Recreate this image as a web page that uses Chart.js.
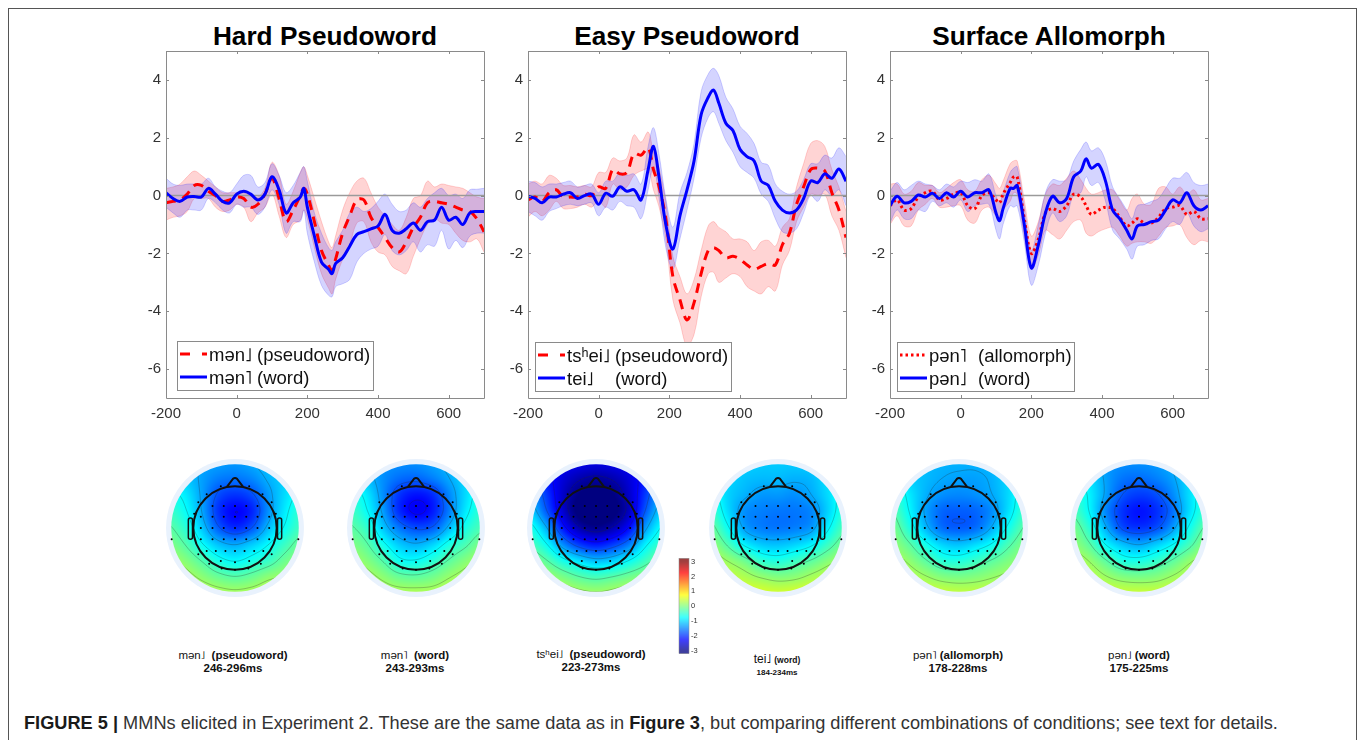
<!DOCTYPE html>
<html>
<head>
<meta charset="utf-8">
<title>MMNs elicited in Experiment 2</title>
<script src="https://cdn.jsdelivr.net/npm/chart.js@4/dist/chart.umd.min.js"></script>
<style>
  html, body { margin: 0; padding: 0; background: #fff; }
  #page { position: relative; width: 1357px; height: 740px; overflow: hidden; font-family: "Liberation Sans", "DejaVu Sans", sans-serif; }
  #frame { position: absolute; left: 8px; top: 8px; width: 1347px; height: 740px; border: 1px solid #555; }
  canvas { position: absolute; }
  .title { position: absolute; top: 20px; width: 320px; text-align: center; font-weight: bold; font-size: 26.2px; line-height: 32px; color: #000; }
  .cap { position: absolute; width: 200px; text-align: center; white-space: nowrap; font-size: 11.5px; line-height: 13px; color: #111; font-weight: bold; }
  .cap .ipa { font-weight: normal; }
  #footer { position: absolute; left: 24px; top: 712px; white-space: nowrap; font-size: 18.2px; line-height: 22px; color: #333; }
  #footer b { color: #1a1a1a; }
</style>
</head>
<body>
<div id="page">
  <div id="frame"></div>
  <div class="title" style="left:165px">Hard Pseudoword</div>
  <div class="title" style="left:527px">Easy Pseudoword</div>
  <div class="title" style="left:889px">Surface Allomorph</div>

  <div class="cap" style="left:133px;top:649px"><span class="ipa">mən˩</span>&nbsp; (pseudoword)<br>246-296ms</div>
  <div class="cap" style="left:315px;top:649px"><span class="ipa">mən˥</span>&nbsp; (word)<br>243-293ms</div>
  <div class="cap" style="left:491px;top:648px"><span class="ipa">tsʰei˩</span>&nbsp; (pseudoword)<br>223-273ms</div>
  <div class="cap" style="left:677px;top:654px;line-height:11px"><span class="ipa" style="font-size:12px">tei˩</span> <span style="font-size:8.5px">(word)</span><br><span style="font-size:8px">184-234ms</span></div>
  <div class="cap" style="left:858px;top:649px"><span class="ipa">pən˥</span>&nbsp;(allomorph)<br>178-228ms</div>
  <div class="cap" style="left:1039px;top:649px"><span class="ipa">pən˩</span>&nbsp;(word)<br>175-225ms</div>

  <div id="footer"><b>FIGURE 5 |</b> MMNs elicited in Experiment 2. These are the same data as in <b>Figure 3</b>, but comparing different combinations of conditions; see text for details.</div>
</div>

<script>
// ---- tick labels
const xTicks = [-200, 0, 200, 400, 600];
const yTicks = [-6, -4, -2, 0, 2, 4];
const barTicks = [-3, -2, -1, 0, 1, 2, 3];

// ---- Hard Pseudoword
const hardTimes = [-200,-180,-160,-140,-120,-100,-80,-60,-40,-20, 0,20,40,60,80,100,120,140,160,180, 190,200,220,240,260,270,280,300,320,340, 360,380,400,420,440,460,480,500,520,540, 560,580,600,620,640,660,680,700];
const hardBlue = [.1,-.1,-.2,-.05,-.03,-.05,.25,.05,-.2,-.25, .05,.15,.05,-.15,.05,.65,.2,-.6,-.25,-.05, .25,-.4,-1.4,-2.3,-2.55,-2.7,-2.35,-2.15,-1.75,-1.35, -1.25,-1.15,-1.05,-.65,-1.2,-1.3,-1.15,-.95,-1.2,-.9, -.85,-.4,-.85,-.75,-1.0,-.6,-.55,-.55];
const hardBlueUp = [.6,.4,.35,.4,.4,.4,.6,.3,.15,.1, .4,.7,.7,.3,.45,1.1,.7,.1,.35,.8, 1.0,.5,-.6,-1.3,-1.8,-1.9,-1.6,-1.2,-.6,-.4, -.55,-.45,-.2,.05,-.3,-.55,-.5,-.25,-.4,-.1, .1,.25,0,.05,-.1,.2,.22,.25];
const hardBlueLo = [-.4,-.6,-.75,-.5,-.5,-.5,-.1,-.25,-.5,-.6, -.3,-.4,-.4,-.65,-.4,.2,-.3,-1.3,-.9,-.9, -.5,-1.3,-2.3,-3.1,-3.45,-3.5,-3.15,-3.05,-2.9,-2.3, -2.0,-1.85,-1.75,-1.35,-1.9,-2.05,-1.9,-1.6,-1.95,-1.7, -1.75,-1.2,-1.85,-1.55,-1.8,-1.4,-1.3,-1.3];
const hardRed = [-.25,-.2,-.15,.05,.35,.35,.15,0,-.2,-.15, -.05,-.1,-.4,-.3,.05,.6,-.1,-.9,-.5,0, .25,.05,-.9,-1.9,-2.4,-2.6,-2.2,-1.3,-.7,-.15, -.15,-.75,-1.1,-1.45,-1.8,-1.95,-1.6,-1.1,-.75,-.25, -.2,-.25,-.3,-.4,-.5,-.55,-.8,-1.25];
const hardRedUp = [.25,.3,.4,.65,.85,.7,.5,.3,.1,.1, .1,.1,0,-.05,.25,1.15,.7,-.3,.15,.8, 1.0,.7,-.1,-.9,-1.6,-1.8,-1.4,-.5,.1,.5, .6,.1,-.4,-.7,-1.0,-1.2,-.75,-.1,0,.5, .3,.4,.35,.3,.25,.1,-.05,-.1];
const hardRedLo = [-.85,-.75,-.7,-.55,-.1,-.1,-.1,-.4,-.55,-.5, -.3,-.4,-.9,-.6,-.4,.05,-.7,-1.45,-1.0,-.85, -.5,-.8,-1.8,-2.7,-3.2,-3.4,-2.9,-2.2,-1.7,-.95, -.9,-1.6,-1.95,-2.05,-2.45,-2.6,-2.7,-2.1,-1.5,-1.0, -.8,-.95,-1.0,-1.3,-1.55,-1.6,-1.5,-1.95];

// ---- Easy Pseudoword
const easyTimes = [-200,-180,-160,-140,-120,-100,-80,-60,-40,-20, 0,20,40,60,80,100,120,140,155,170, 190,210,230,250,270,290,310,325,340,360, 380,400,420,440,460,480,500,520,540,560, 580,600,620,640,660,680,700];
const easyBlue = [-.02,-.1,-.25,-.05,-.05,.05,.1,-.1,0,.05, -.3,.08,-.02,.3,.15,.2,-.15,.9,1.7,.7, -1.0,-1.85,-.7,.2,1.2,2.8,3.4,3.65,3.2,2.5, 2.25,1.6,1.35,1.2,.5,.35,-.2,-.5,-.6,-.5, -.1,.5,.45,.75,.6,.92,.5];
const easyBlueUp = [.5,.45,.3,.4,.4,.45,.5,.3,.35,.4, .1,.5,.5,.8,.7,.75,.4,1.7,2.35,1.5, -.1,-1.1,.1,.8,1.8,3.6,4.2,4.4,4.15,3.4, 3.0,2.4,2.15,1.8,1.15,1.05,.4,.15,.05,.15, .55,1.1,1.1,1.4,1.3,1.65,1.35];
const easyBlueLo = [-.55,-.7,-.85,-.55,-.45,-.35,-.3,-.35,-.3,-.25, -.7,-.4,-.5,-.2,-.35,-.4,-.8,.2,1.0,0, -1.8,-2.55,-1.5,-.5,.6,2.0,2.7,2.9,2.5,1.9, 1.5,1.0,.8,.6,.05,-.2,-.8,-1.25,-1.3,-1.15, -.6,0,-.2,.2,0,.2,-.35];
const easyRed = [-.15,-.05,-.2,.1,.2,-.05,-.05,-.05,.05,0, .3,.25,.9,.75,.8,1.45,1.4,1.65,.9,.35, -.8,-2.8,-3.6,-4.3,-3.7,-2.7,-1.9,-1.8,-1.9,-2.15, -2.1,-2.2,-2.4,-2.55,-2.45,-2.35,-2.4,-1.7,-1.3,-.3, .3,.9,.95,.85,.1,-.5,-1.45];
const easyRedUp = [.4,.5,.4,.7,.6,.35,.35,.3,.35,.3, .8,.8,1.3,1.2,1.3,2.1,1.85,2.2,1.5,1.0, -.2,-2.1,-2.8,-3.4,-2.9,-1.9,-1.05,-.9,-1.1,-1.25, -1.5,-1.5,-1.6,-1.9,-1.6,-1.55,-1.75,-1.1,-.8,.3, 1.1,1.8,1.9,1.7,.9,.3,-.55];
const easyRedLo = [-.75,-.55,-.7,-.5,-.2,-.45,-.45,-.4,-.3,-.4, -.2,-.4,.4,.2,.3,.7,.85,.9,.2,-.35, -1.5,-3.6,-4.4,-5.2,-4.8,-3.5,-2.7,-2.65,-3.0,-2.85, -2.7,-2.8,-3.15,-3.3,-3.4,-3.15,-3.3,-2.4,-1.9,-.9, -.4,.05,0,.05,-.7,-1.2,-2.15];

// ---- Surface Allomorph
const surfTimes = [-200,-180,-160,-140,-120,-100,-80,-60,-40,-20, 0,20,40,60,80,100,110,120,140,150, 160,180,200,220,240,260,280,300,320,340, 355,370,390,410,430,450,470,485,500,520, 540,560,580,600,620,640,660,680,700];
const surfBlue = [-.35,-.02,-.25,-.2,.02,-.05,.08,-.1,.1,-.05, .15,-.05,.1,.1,.2,-.6,-.87,-.45,.25,.25, .35,-1.0,-2.5,-1.7,-.6,-.02,-.25,-.1,.65,.85, 1.27,.95,1.08,.5,-.5,-.8,-1.2,-1.5,-1.05,-1.0, -.9,-.85,-.5,-.15,-.25,.1,-.35,-.5,-.35];
const surfBlueUp = [.15,.45,.2,.35,.5,.4,.35,.2,.4,.3, .5,.45,.55,.5,.75,0,-.25,.1,.8,.95, 1.0,-.4,-1.9,-1.0,.1,.55,.5,.55,1.2,1.6, 1.85,1.55,1.65,1.2,.3,-.1,-.5,-.8,-.35,-.3, -.2,-.1,.25,.6,.6,.8,.45,.35,.4];
const surfBlueLo = [-.95,-.5,-.8,-.8,-.5,-.55,-.2,-.35,-.25,-.4, -.15,-.55,-.35,-.3,-.3,-1.2,-1.5,-1.0,-.35,-.4, -.35,-1.6,-3.1,-2.4,-1.3,-.6,-.9,-.7,.05,.1, .65,.35,.45,-.2,-1.2,-1.5,-1.85,-2.2,-1.75,-1.7, -1.55,-1.5,-1.15,-.9,-1.0,-.6,-1.05,-1.25,-1.15];
const surfRed = [-.35,-.15,-.5,-.45,-.05,.1,.15,-.15,-.1,.05, .1,-.35,-.45,0,.1,-.15,-.25,.05,.45,.65, .65,-.8,-2.0,-1.5,-.6,-.45,-.55,-.35,.05,-.05, -.35,-.65,-.5,-.4,-.45,-.75,-1.05,-.95,-.8,-.95, -.95,-.75,-.45,-.4,-.35,-.65,-.55,-.8,-.8];
const surfRedUp = [.4,.4,.05,.15,.45,.35,.35,.1,.25,.45, .55,.2,.15,.55,.7,.4,.25,.5,1.1,1.2, 1.2,-.15,-1.4,-.9,.05,.4,.35,.6,.85,.55, .25,.05,.1,.2,.2,-.15,-.5,-.1,.05,-.3, -.3,.25,.3,.05,.3,.05,.2,-.15,-.1];
const surfRedLo = [-1.0,-.7,-1.05,-1.05,-.5,-.3,-.1,-.4,-.4,-.35, -.35,-.85,-.95,-.5,-.4,-.7,-.8,-.5,-.2,.1, .05,-1.4,-2.55,-2.05,-1.2,-1.35,-1.5,-1.2,-.9,-.85, -1.3,-1.4,-1.25,-1.15,-1.1,-1.4,-1.75,-1.65,-1.6,-1.6, -1.65,-1.4,-1.1,-1.05,-1.0,-1.45,-1.7,-1.55,-1.6];

// ---- legend texts
const hardLegend = [["mən˩", "(pseudoword)"], ["mən˥", "(word)"]];
const easyLegend = [["tsʰei˩", "(pseudoword)"], ["tei˩", "(word)"]];
const surfLegend = [["pən˥", "(allomorph)"], ["pən˩", "(word)"]];

// ---- scalp potentials, rows top to bottom, columns left to right
const mapHardPseudo = [
  [-1.1,-1.15,-1.25,-1.3,-1.35,-1.25,-1.1,-1.0,-.9],
  [-.85,-1.05,-1.3,-1.5,-1.55,-1.45,-1.2,-1.0,-.75],
  [-.65,-.85,-1.3,-1.8,-1.95,-1.8,-1.35,-.95,-.65],
  [-.4,-.7,-1.25,-1.95,-2.25,-2.05,-1.4,-.85,-.45],
  [-.2,-.5,-1.05,-1.7,-2.0,-1.75,-1.15,-.7,-.35],
  [0,-.25,-.7,-1.1,-1.25,-1.05,-.75,-.4,-.1],
  [.25,.05,-.25,-.6,-.75,-.6,-.4,-.1,.1],
  [.45,.3,.1,-.1,-.2,-.1,.1,.2,.3],
  [.6,.5,.4,.3,.25,.3,.4,.45,.5]
];
const mapHardWord = [
  [-1.2,-1.25,-1.35,-1.4,-1.4,-1.3,-1.15,-1.0,-.85],
  [-.8,-1.1,-1.4,-1.6,-1.65,-1.5,-1.25,-.95,-.7],
  [-.55,-.85,-1.4,-1.95,-2.15,-2.0,-1.45,-.95,-.55],
  [-.35,-.7,-1.3,-2.0,-2.3,-2.1,-1.5,-.85,-.45],
  [-.2,-.45,-1.05,-1.55,-1.8,-1.7,-1.15,-.6,-.3],
  [0,-.2,-.65,-1.05,-1.2,-1.0,-.6,-.3,0],
  [.25,.05,-.25,-.65,-.7,-.5,-.2,.05,.25],
  [.45,.3,.1,-.1,-.15,-.05,.15,.3,.45],
  [.55,.5,.35,.3,.3,.3,.4,.5,.55]
];
const mapEasyPseudo = [
  [-1.9,-2.1,-2.25,-2.35,-2.4,-2.35,-2.25,-2.05,-1.85],
  [-1.7,-2.1,-2.45,-2.7,-2.8,-2.7,-2.45,-2.05,-1.65],
  [-1.3,-1.9,-2.55,-3.0,-3.1,-3.0,-2.55,-1.9,-1.25],
  [-1.0,-1.7,-2.5,-3.1,-3.2,-3.1,-2.6,-1.7,-1.0],
  [-.6,-1.2,-2.1,-2.7,-2.9,-2.7,-2.2,-1.3,-.7],
  [-.3,-.7,-1.4,-1.9,-2.1,-1.9,-1.5,-.8,-.4],
  [.05,-.2,-.6,-.9,-1.1,-1.0,-.7,-.35,-.05],
  [.25,.2,0,-.2,-.3,-.2,-.05,.1,.25],
  [.45,.4,.35,.25,.2,.25,.35,.4,.45]
];
const mapEasyWord = [
  [-.8,-.9,-1.0,-1.05,-1.05,-1.05,-1.0,-.9,-.8],
  [-.7,-.95,-1.1,-1.15,-1.15,-1.2,-1.15,-.9,-.7],
  [-.6,-1.0,-1.2,-1.35,-1.35,-1.4,-1.25,-.95,-.6],
  [-.4,-.95,-1.4,-1.5,-1.55,-1.55,-1.45,-1.0,-.5],
  [-.15,-.7,-1.3,-1.5,-1.55,-1.5,-1.35,-.8,-.3],
  [.1,-.3,-.8,-1.05,-1.1,-1.0,-.8,-.4,-.05],
  [.35,.15,-.1,-.45,-.55,-.4,-.2,.05,.25],
  [.6,.45,.3,.15,.05,.1,.25,.4,.55],
  [.75,.7,.6,.55,.5,.55,.6,.7,.75]
];
const mapSurfAllo = [
  [-.95,-1.1,-1.15,-1.2,-1.2,-1.2,-1.15,-1.05,-.85],
  [-.6,-1.0,-1.15,-1.25,-1.3,-1.3,-1.2,-.95,-.6],
  [-.4,-.85,-1.2,-1.4,-1.45,-1.4,-1.25,-.95,-.5],
  [-.25,-.75,-1.3,-1.65,-1.7,-1.65,-1.4,-.9,-.4],
  [-.05,-.55,-1.15,-1.6,-1.7,-1.6,-1.2,-.65,-.2],
  [.1,-.2,-.65,-1.0,-1.1,-.95,-.7,-.3,0],
  [.3,.1,-.2,-.5,-.55,-.4,-.2,0,.15],
  [.5,.35,.2,.05,0,.05,.15,.25,.35],
  [.6,.55,.5,.45,.4,.4,.45,.5,.55]
];
const mapSurfWord = [
  [-.95,-1.2,-1.35,-1.4,-1.4,-1.35,-1.2,-1.05,-.85],
  [-.6,-.9,-1.3,-1.55,-1.6,-1.5,-1.3,-.95,-.6],
  [-.45,-.8,-1.3,-1.75,-1.9,-1.8,-1.45,-.95,-.55],
  [-.3,-.75,-1.45,-1.95,-2.15,-2.0,-1.6,-.95,-.45],
  [-.05,-.5,-1.2,-1.8,-1.95,-1.8,-1.35,-.7,-.2],
  [.1,-.2,-.75,-1.1,-1.25,-1.05,-.75,-.35,.05],
  [.35,.15,-.2,-.55,-.6,-.45,-.2,.1,.3],
  [.55,.4,.2,.05,0,.05,.2,.35,.5],
  [.65,.6,.5,.45,.45,.45,.5,.55,.65]
];

// ---- electrode positions on the head, radius 1
const electrodeX = [-.34,.34, -.68,.66, -.88,.88, -.54,-.27,0,.27,.54, -.98,.98, -.82,-.54,-.27,0,.27,.54,.82, -.82,-.54,-.27,0,.27,.54,.82, -1.52,-.82,-.54,-.27,0,.27,.54,.82,1.52, -.68,-.46,-.23,0,.23,.46,.68, -.88,.88, -.62,-.34,0,.34,.62, -.32,0,.32];
const electrodeY = [1,1, .81,.81, .62,.62, .53,.53,.53,.53,.53, .34,.34, .27,.27,.27,.27,.27,.27,.27, 0,0,0,0,0,0,0, -.27,-.27,-.27,-.27,-.27,-.27,-.27,-.27,-.27, -.55,-.55,-.55,-.55,-.55,-.55,-.55, -.63,-.63, -.86,-.79,-.82,-.79,-.86, -.97,-1,-.97];
const contourLevels = [-2.75,-2.25,-1.75,-1.25,-.75,-.25,.15];

// ---- colours
function jet(v) {
  const t = Math.max(0, Math.min(1, (v + 3) / 6));
  const c = k => Math.max(0, Math.min(1, 1.5 - Math.abs(4 * t - k)));
  return [c(3) * 255, c(2) * 255, c(1) * 255];
}

// ---- MATLAB style box and inward ticks, plus legend inside the plot
const boxPlugin = {
  id: 'box',
  afterDraw(chart) {
    const { ctx, chartArea: a, scales } = chart;
    ctx.save();
    ctx.strokeStyle = '#8a8a8a';
    ctx.lineWidth = 1;
    ctx.beginPath();
    ctx.rect(a.left + .5, a.top + .5, a.right - a.left, a.bottom - a.top);
    xTicks.forEach(v => {
      const x = Math.round(scales.x.getPixelForValue(v)) + .5;
      ctx.moveTo(x, a.bottom); ctx.lineTo(x, a.bottom - 3);
      ctx.moveTo(x, a.top); ctx.lineTo(x, a.top + 3);
    });
    yTicks.forEach(v => {
      const y = Math.round(scales.y.getPixelForValue(v)) + .5;
      ctx.moveTo(a.left, y); ctx.lineTo(a.left + 3, y);
      ctx.moveTo(a.right, y); ctx.lineTo(a.right - 3, y);
    });
    ctx.stroke();

    const lg = chart.options.plugins.box;
    ctx.fillStyle = '#fff';
    ctx.fillRect(lg.x, lg.y, lg.w, 49);
    ctx.strokeRect(lg.x + .5, lg.y + .5, lg.w, 49);
    lg.rows.forEach((row, i) => {
      const y = lg.y + 13 + i * 23;
      const line = chart.data.datasets[i === 0 ? 1 : 0];
      ctx.strokeStyle = line.borderColor;
      ctx.lineWidth = 3;
      ctx.setLineDash(i === 0 ? lg.sample : []);
      ctx.beginPath();
      ctx.moveTo(lg.x + 3, y);
      ctx.lineTo(lg.x + 30, y);
      ctx.stroke();
      ctx.setLineDash([]);
      ctx.fillStyle = '#111';
      ctx.font = '18.5px "Liberation Sans", "DejaVu Sans", sans-serif';
      ctx.textBaseline = 'middle';
      ctx.fillText(row[0], lg.x + 32, y + 2);
      ctx.fillText(row[1], lg.tagX, y + 2);
    });
    ctx.restore();
  }
};

const TOP = 51, PAD_T = 15, PLOT_W = 318, PLOT_H = 347, PAD_L = 44;

function band(times, values, colour, edge, fill, order) {
  return {
    data: times.map((t, i) => ({ x: t, y: values[i] })),
    borderColor: edge, borderWidth: .8, pointRadius: 0,
    backgroundColor: colour, fill: fill, order: order,
    tension: .35
  };
}

function line(times, values, colour, dash) {
  return {
    data: times.map((t, i) => ({ x: t, y: values[i] })),
    borderColor: colour, borderWidth: 3, pointRadius: 0, fill: false,
    borderDash: dash, tension: .35
  };
}

function makePanel(left, times, red, redUp, redLo, blue, blueUp, blueLo, dash, legend) {
  const canvas = document.createElement('canvas');
  const cw = PAD_L + PLOT_W + 14, ch = PAD_T + PLOT_H + 30;
  canvas.width = cw; canvas.height = ch;
  canvas.style.cssText = 'left:' + (left - PAD_L) + 'px;top:' + (TOP - PAD_T) + 'px;width:' + cw + 'px;height:' + ch + 'px';
  document.getElementById('page').appendChild(canvas);

  const blueLine = line(times, blue, '#0000ff');
  blueLine.order = 0;
  const redLine = line(times, red, '#ff0000', dash);
  redLine.order = 1;
  const zero = {
    data: [{ x: -200, y: 0 }, { x: 700, y: 0 }],
    borderColor: '#9a9a9a', borderWidth: 1.5, pointRadius: 0, fill: false, order: 2
  };

  new Chart(canvas, {
    type: 'line',
    data: {
      datasets: [
        blueLine, redLine, zero,
        band(times, blueUp, 'rgba(0,0,255,.17)', 'rgba(0,0,255,.22)', '+1', 3),
        band(times, blueLo, 'rgba(0,0,255,.17)', 'rgba(0,0,255,.22)', false, 3),
        band(times, redUp, 'rgba(255,0,0,.17)', 'rgba(255,0,0,.22)', '+1', 4),
        band(times, redLo, 'rgba(255,0,0,.17)', 'rgba(255,0,0,.22)', false, 4)
      ]
    },
    options: {
      responsive: false,
      animation: false,
      layout: { autoPadding: false, padding: { top: PAD_T, right: 14 } },
      plugins: {
        legend: { display: false },
        tooltip: { enabled: false },
        box: legend
      },
      scales: {
        x: {
          type: 'linear', min: -200, max: 700,
          grid: { display: false, drawTicks: false }, border: { display: false },
          afterBuildTicks: s => { s.ticks = xTicks.map(v => ({ value: v })); },
          afterFit: s => { s.height = 30; },
          ticks: { color: '#333', font: { size: 15, family: '"Liberation Sans"' }, padding: 7, maxRotation: 0, autoSkip: false, callback: v => String(v) }
        },
        y: {
          min: -7, max: 5,
          grid: { display: false, drawTicks: false }, border: { display: false },
          afterBuildTicks: s => { s.ticks = yTicks.map(v => ({ value: v })); },
          afterFit: s => { s.width = PAD_L; },
          ticks: { color: '#333', font: { size: 15, family: '"Liberation Sans"' }, padding: 5, autoSkip: false, callback: v => String(v) }
        }
      }
    },
    plugins: [boxPlugin]
  });
}

makePanel(166, hardTimes, hardRed, hardRedUp, hardRedLo, hardBlue, hardBlueUp, hardBlueLo, [10, 7],
  { x: 177 - 166 + PAD_L, y: 341 - TOP + PAD_T, w: 196, tagX: 257 - 166 + PAD_L, rows: hardLegend, sample: [10, 12] });
makePanel(528, easyTimes, easyRed, easyRedUp, easyRedLo, easyBlue, easyBlueUp, easyBlueLo, [10, 7],
  { x: 535 - 528 + PAD_L, y: 342 - TOP + PAD_T, w: 196, tagX: 615 - 528 + PAD_L, rows: easyLegend, sample: [10, 12] });
makePanel(890, surfTimes, surfRed, surfRedUp, surfRedLo, surfBlue, surfBlueUp, surfBlueLo, [2.5, 3],
  { x: 897 - 890 + PAD_L, y: 342 - TOP + PAD_T, w: 177, tagX: 978 - 890 + PAD_L, rows: surfLegend, sample: [2.5, 3] });

// ---- topographic maps
function catmull(p0, p1, p2, p3, t) {
  return p1 + .5 * t * (p2 - p0 + t * (2 * p0 - 5 * p1 + 4 * p2 - p3 + t * (3 * (p1 - p2) + p3 - p0)));
}

// grid covers -1.6..1.6 on both axes
function fieldAt(grid, x, y) {
  const n = grid.length - 1;
  const gx = Math.max(0, Math.min(n, (x + 1.6) / 3.2 * n));
  const gy = Math.max(0, Math.min(n, (1.6 - y) / 3.2 * n));
  const ix = Math.min(n - 1, Math.floor(gx)), iy = Math.min(n - 1, Math.floor(gy));
  const cl = i => Math.max(0, Math.min(n, i));
  const rows = [-1, 0, 1, 2].map(d => {
    const r = grid[cl(iy + d)];
    return catmull(r[cl(ix - 1)], r[ix], r[ix + 1], r[cl(ix + 2)], gx - ix);
  });
  return catmull(rows[0], rows[1], rows[2], rows[3], gy - iy);
}

const topoPlugin = {
  id: 'topo',
  beforeDatasetsDraw(chart) {
    const { ctx, scales, canvas } = chart;
    const grid = chart.options.plugins.topo.grid;
    const cx = scales.x.getPixelForValue(0), cy = scales.y.getPixelForValue(0);
    const unit = scales.x.getPixelForValue(1) - cx;
    const size = canvas.width;

    ctx.save();
    ctx.fillStyle = '#e9f2fd';
    ctx.beginPath();
    ctx.arc(cx, cy, 1.655 * unit, 0, Math.PI * 2);
    ctx.fill();

    // potential field
    const sample = (px, py) => fieldAt(grid, scales.x.getValueForPixel(px), scales.y.getValueForPixel(py));
    const off = document.createElement('canvas');
    off.width = size; off.height = size;
    const octx = off.getContext('2d');
    const img = octx.createImageData(size, size);
    for (let py = 0; py < size; py++) {
      for (let px = 0; px < size; px++) {
        const c = jet(sample(px + .5, py + .5));
        const k = (py * size + px) * 4;
        img.data[k] = c[0]; img.data[k + 1] = c[1]; img.data[k + 2] = c[2]; img.data[k + 3] = 255;
      }
    }
    octx.putImageData(img, 0, 0);
    ctx.beginPath();
    ctx.arc(cx, cy, 1.53 * unit, 0, Math.PI * 2);
    ctx.clip();
    ctx.drawImage(off, 0, 0);

    // contours, marching squares on a 2px lattice
    ctx.strokeStyle = 'rgba(40,40,40,.55)';
    ctx.lineWidth = .5;
    ctx.beginPath();
    const step = 2;
    contourLevels.forEach(lv => {
      for (let py = 0; py < size; py += step) {
        for (let px = 0; px < size; px += step) {
          const a = sample(px, py) - lv, b = sample(px + step, py) - lv;
          const c = sample(px + step, py + step) - lv, d = sample(px, py + step) - lv;
          const pts = [];
          if (a * b < 0) pts.push([px + step * a / (a - b), py]);
          if (b * c < 0) pts.push([px + step, py + step * b / (b - c)]);
          if (c * d < 0) pts.push([px + step * d / (d - c), py + step]);
          if (d * a < 0) pts.push([px, py + step * a / (a - d)]);
          if (pts.length >= 2) { ctx.moveTo(pts[0][0], pts[0][1]); ctx.lineTo(pts[1][0], pts[1][1]); }
          if (pts.length === 4) { ctx.moveTo(pts[2][0], pts[2][1]); ctx.lineTo(pts[3][0], pts[3][1]); }
        }
      }
    });
    ctx.stroke();
    ctx.restore();

    // head, nose and ears
    ctx.save();
    ctx.strokeStyle = '#111';
    ctx.lineWidth = 2;
    ctx.beginPath();
    ctx.arc(cx, cy, unit, 0, Math.PI * 2);
    ctx.moveTo(cx - .2 * unit, cy - .98 * unit);
    ctx.lineTo(cx - .05 * unit, cy - 1.18 * unit);
    ctx.quadraticCurveTo(cx, cy - 1.22 * unit, cx + .05 * unit, cy - 1.18 * unit);
    ctx.lineTo(cx + .2 * unit, cy - .98 * unit);
    ctx.stroke();
    ctx.lineWidth = 1.5;
    [-1.12, 1.02].forEach(ex => {
      ctx.beginPath();
      ctx.roundRect(cx + ex * unit, cy - .24 * unit, .1 * unit, .51 * unit, 2);
      ctx.stroke();
    });
    ctx.restore();
  }
};

function makeMap(centreX, grid) {
  const canvas = document.createElement('canvas');
  canvas.width = 140; canvas.height = 140;
  canvas.style.cssText = 'left:' + (centreX - 70) + 'px;top:457.5px;width:140px;height:140px';
  document.getElementById('page').appendChild(canvas);
  new Chart(canvas, {
    type: 'scatter',
    data: {
      datasets: [{
        data: electrodeX.map((x, i) => ({ x: x, y: electrodeY[i] })),
        backgroundColor: '#000', borderWidth: 0, pointRadius: 1
      }]
    },
    options: {
      responsive: false,
      animation: false,
      layout: { autoPadding: false },
      plugins: { legend: { display: false }, tooltip: { enabled: false }, topo: { grid: grid } },
      scales: {
        x: { type: 'linear', display: false, min: -1.68, max: 1.68 },
        y: { type: 'linear', display: false, min: -1.68, max: 1.68 }
      }
    },
    plugins: [topoPlugin]
  });
}

makeMap(235, mapHardPseudo);
makeMap(416, mapHardWord);
makeMap(596, mapEasyPseudo);
makeMap(778, mapEasyWord);
makeMap(959, mapSurfAllo);
makeMap(1139, mapSurfWord);

// ---- colour bar
const barPlugin = {
  id: 'bar',
  beforeDatasetsDraw(chart) {
    const { ctx, chartArea: a, scales } = chart;
    for (let py = a.top; py < a.bottom; py++) {
      const c = jet(scales.y.getValueForPixel(py + .5));
      ctx.fillStyle = 'rgb(' + c.map(Math.round).join(',') + ')';
      ctx.fillRect(a.left, py, a.right - a.left, 1);
    }
    ctx.strokeStyle = '#888';
    ctx.lineWidth = .5;
    ctx.strokeRect(a.left, a.top, a.right - a.left, a.bottom - a.top);
  }
};

const barCanvas = document.createElement('canvas');
barCanvas.width = 36; barCanvas.height = 108;
barCanvas.style.cssText = 'left:674px;top:552px;width:36px;height:108px';
document.getElementById('page').appendChild(barCanvas);
new Chart(barCanvas, {
  type: 'scatter',
  data: { datasets: [{ data: [], pointRadius: 0 }] },
  options: {
    responsive: false,
    animation: false,
    layout: { autoPadding: false, padding: { left: 5, top: 4, bottom: 4 } },
    plugins: { legend: { display: false }, tooltip: { enabled: false } },
    scales: {
      x: { type: 'linear', display: false, min: 0, max: 1 },
      y: {
        position: 'right', min: -3.15, max: 3.2,
        grid: { display: false, drawTicks: false }, border: { display: false },
        afterBuildTicks: s => { s.ticks = barTicks.map(v => ({ value: v })); },
        afterFit: s => { s.width = 21; },
        ticks: { color: '#333', font: { size: 7.5, family: '"Liberation Sans"' }, padding: 2, autoSkip: false, callback: v => String(v) }
      }
    }
  },
  plugins: [barPlugin]
});
</script>
</body>
</html>
